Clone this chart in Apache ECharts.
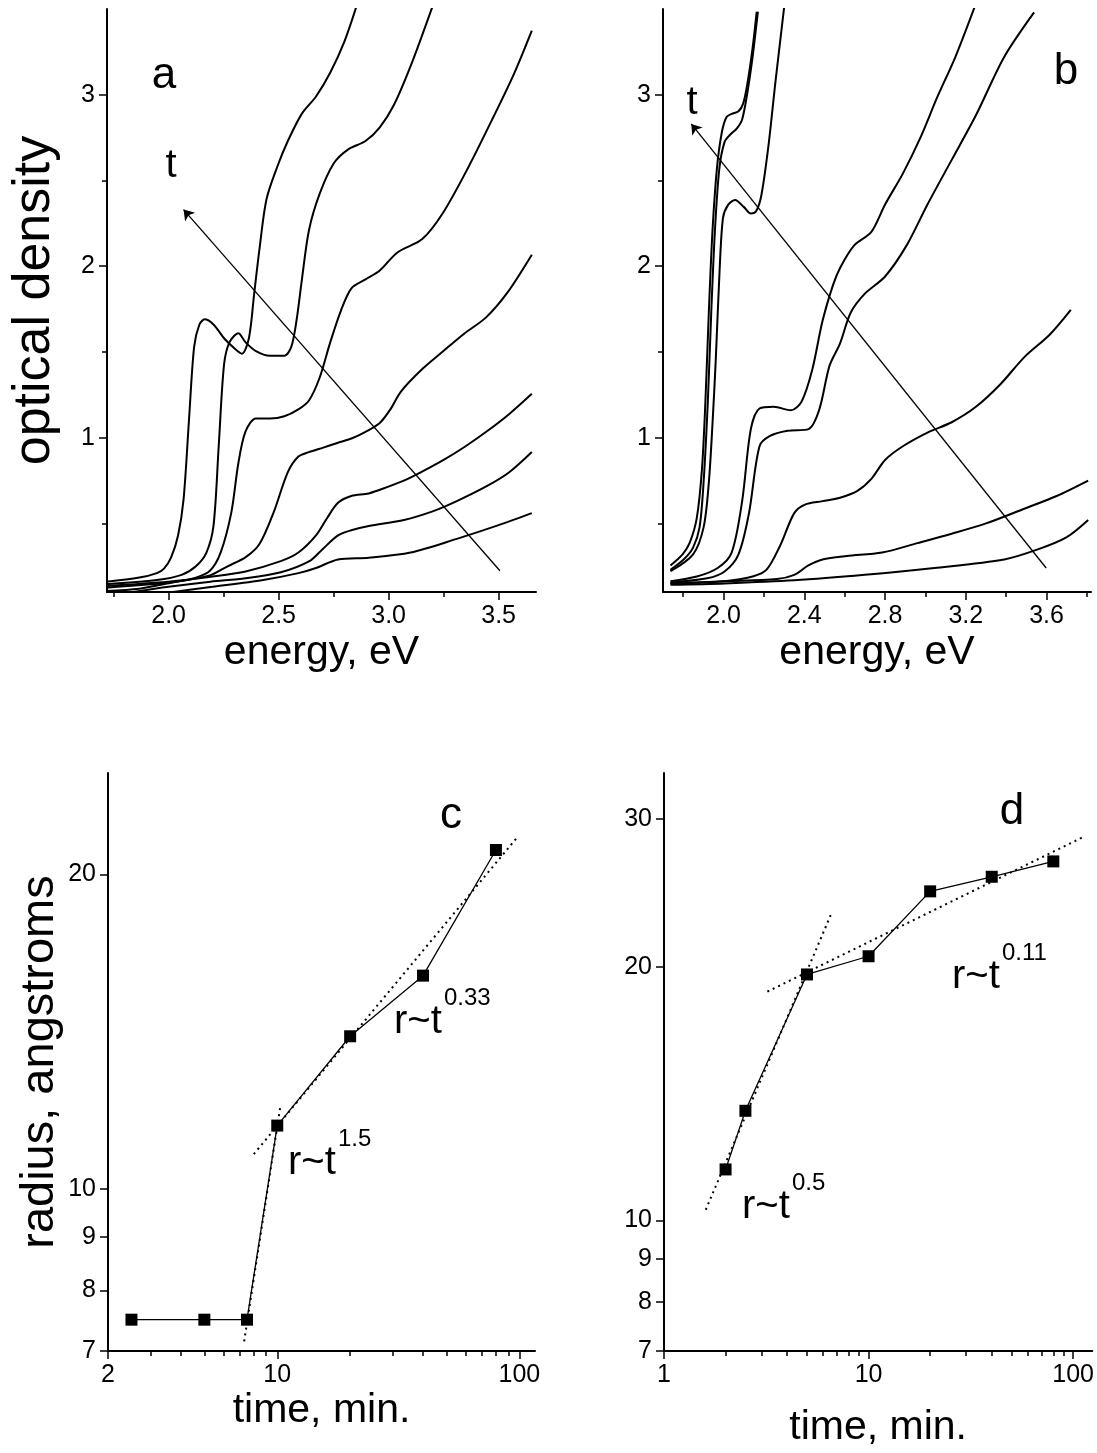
<!DOCTYPE html>
<html><head><meta charset="utf-8">
<script src="https://cdn.jsdelivr.net/npm/echarts@6/dist/echarts.min.js"></script>
<style>html,body{margin:0;padding:0;background:#fff}#c{width:1097px;height:1453px}</style>
</head><body><div id="c"></div>
<script>
// ---------- Panel a: optical density vs energy ----------
const a1 = [[1.706,0.158],[1.867,0.184],[1.947,0.21],[1.979,0.236],[2.011,0.30],[2.043,0.43],[2.068,0.64],[2.092,1.09],[2.116,1.53],[2.14,1.66],[2.164,1.69],[2.204,1.66],[2.252,1.58],[2.30,1.52],[2.333,1.49],[2.365,1.58],[2.389,1.84],[2.413,2.10],[2.445,2.39],[2.494,2.58],[2.542,2.73],[2.606,2.89],[2.670,2.99],[2.735,3.13],[2.799,3.31],[2.855,3.52]];
const a2 = [[1.706,0.145],[1.947,0.17],[2.059,0.20],[2.124,0.25],[2.172,0.33],[2.204,0.485],[2.228,0.956],[2.252,1.426],[2.277,1.557],[2.317,1.609],[2.349,1.557],[2.397,1.505],[2.461,1.478],[2.526,1.478],[2.558,1.531],[2.582,1.688],[2.606,1.923],[2.638,2.21],[2.686,2.42],[2.751,2.60],[2.815,2.68],[2.895,2.73],[2.96,2.81],[3.024,2.94],[3.104,3.18],[3.201,3.52]];
const a3 = [[1.706,0.124],[2.027,0.158],[2.124,0.184],[2.188,0.224],[2.236,0.328],[2.285,0.563],[2.317,0.851],[2.349,1.034],[2.397,1.112],[2.461,1.112],[2.526,1.125],[2.59,1.165],[2.638,1.217],[2.686,1.348],[2.735,1.557],[2.783,1.74],[2.831,1.871],[2.895,1.923],[2.96,1.975],[3.04,2.08],[3.153,2.158],[3.249,2.315],[3.362,2.576],[3.474,2.864],[3.571,3.125],[3.651,3.374]];
const a4 = [[1.706,0.106],[1.867,0.119],[2.027,0.158],[2.188,0.197],[2.268,0.25],[2.349,0.302],[2.413,0.38],[2.477,0.563],[2.542,0.799],[2.59,0.89],[2.638,0.916],[2.703,0.942],[2.767,0.969],[2.831,0.995],[2.895,1.034],[2.96,1.086],[3.008,1.165],[3.056,1.269],[3.153,1.40],[3.249,1.505],[3.346,1.609],[3.442,1.70],[3.539,1.844],[3.651,2.067]];
const a5 = [[1.706,0.135],[2.0,0.16],[2.2,0.19],[2.35,0.22],[2.51,0.28],[2.59,0.33],[2.67,0.43],[2.72,0.53],[2.77,0.62],[2.83,0.66],[2.91,0.675],[2.99,0.71],[3.08,0.755],[3.15,0.80],[3.25,0.87],[3.35,0.95],[3.45,1.04],[3.55,1.14],[3.651,1.256]];
const a6 = [[1.84,0.10],[2.0,0.13],[2.19,0.16],[2.35,0.18],[2.51,0.215],[2.64,0.28],[2.70,0.35],[2.77,0.43],[2.83,0.46],[2.91,0.485],[3.07,0.52],[3.2,0.57],[3.31,0.63],[3.45,0.72],[3.55,0.80],[3.651,0.916]];
const a7 = [[2.02,0.10],[2.2,0.13],[2.43,0.17],[2.59,0.21],[2.67,0.24],[2.77,0.29],[2.91,0.30],[3.1,0.33],[3.31,0.41],[3.5,0.49],[3.651,0.56]];
const arrowA = [[3.506,0.224],[2.068,2.33]];

// ---------- Panel b ----------
const b1 = [[1.737,0.255],[1.797,0.32],[1.832,0.386],[1.867,0.529],[1.893,0.817],[1.91,1.209],[1.927,1.732],[1.945,2.203],[1.967,2.569],[1.991,2.778],[2.014,2.869],[2.04,2.888],[2.074,2.903],[2.097,2.948],[2.118,3.065],[2.144,3.275],[2.164,3.484]];
const b2 = [[1.737,0.229],[1.806,0.294],[1.849,0.359],[1.881,0.477],[1.901,0.739],[1.922,1.209],[1.939,1.732],[1.957,2.203],[1.979,2.569],[2.005,2.725],[2.031,2.765],[2.066,2.804],[2.092,2.856],[2.118,3.013],[2.144,3.222],[2.17,3.484]];
const b3 = [[1.737,0.221],[1.849,0.32],[1.901,0.477],[1.927,0.739],[1.945,1.078],[1.962,1.471],[1.979,1.941],[1.997,2.281],[2.023,2.359],[2.057,2.386],[2.10,2.346],[2.135,2.307],[2.161,2.32],[2.187,2.412],[2.222,2.699],[2.256,3.065],[2.30,3.51]];
const b4 = [[1.737,0.163],[1.867,0.19],[1.971,0.24],[2.04,0.33],[2.092,0.63],[2.135,1.05],[2.178,1.17],[2.248,1.18],[2.334,1.16],[2.386,1.21],[2.438,1.39],[2.49,1.68],[2.542,1.89],[2.577,1.99],[2.646,2.12],[2.732,2.20],[2.80,2.36],[2.888,2.54],[2.975,2.75],[3.06,2.99],[3.148,3.22],[3.243,3.51]];
const b5 = [[1.737,0.156],[1.919,0.18],[2.005,0.22],[2.074,0.32],[2.126,0.56],[2.178,0.95],[2.23,1.01],[2.317,1.04],[2.421,1.05],[2.473,1.16],[2.525,1.42],[2.577,1.55],[2.63,1.73],[2.70,1.84],[2.80,1.94],[2.906,2.12],[3.01,2.36],[3.13,2.62],[3.25,2.88],[3.39,3.22],[3.538,3.48]];
const b6 = [[1.737,0.15],[2.005,0.163],[2.144,0.19],[2.213,0.23],[2.28,0.37],[2.35,0.56],[2.403,0.61],[2.49,0.63],[2.577,0.65],[2.663,0.69],[2.732,0.76],[2.80,0.87],[2.888,0.95],[3.01,1.03],[3.13,1.09],[3.25,1.18],[3.37,1.31],[3.49,1.47],[3.615,1.60],[3.72,1.745]];
const b7 = [[1.737,0.15],[2.005,0.163],[2.265,0.176],[2.35,0.20],[2.42,0.255],[2.49,0.29],[2.61,0.31],[2.785,0.33],[2.96,0.385],[3.13,0.44],[3.30,0.50],[3.477,0.58],[3.65,0.66],[3.806,0.75]];
const b8 = [[1.737,0.142],[2.005,0.15],[2.35,0.168],[2.70,0.20],[3.044,0.24],[3.39,0.29],[3.56,0.35],[3.70,0.42],[3.806,0.52]];
const arrowB = [[3.598,0.24],[1.84,2.83]];

// ---------- Panel c: radius vs time ----------
const tC = [2.5, 5, 7.5, 10, 20, 40, 80];
const rC = [7.5, 7.5, 7.5, 11.5, 14.0, 16.0, 21.1];
const fitC1 = [[7.3, 7.15], [10.3, 12.0]];
const fitC2 = [[8.0, 10.8], [98, 21.7]];

// ---------- Panel d ----------
const tD = [2, 2.5, 5, 10, 20, 40, 80];
const rD = [11.5, 13.5, 19.6, 20.6, 24.6, 25.6, 26.7];
const fitD1 = [[1.6, 10.3], [6.6, 23.2]];
const fitD2 = [[3.2, 18.7], [114, 28.6]];

// ---------- ticks / labels ----------
const aXMajor = [2.0, 2.5, 3.0, 3.5];
const aXMinor = [1.75, 2.25, 2.75, 3.25];
const bXMajor = [2.0, 2.4, 2.8, 3.2, 3.6];
const bXMinor = [1.8, 2.2, 2.6, 3.0, 3.4, 3.8];
const odMajor = [1, 2, 3];
const odMinor = [0.5, 1.5, 2.5];
const cXMajor = [2, 10, 100];
const cXMinor = [3, 4, 5, 6, 7, 8, 9, 20, 30, 40, 50, 60, 70, 80, 90];
const cYTicks = [7, 8, 9, 10, 20];
const dXMajor = [1, 10, 100];
const dXMinor = [2, 3, 4, 5, 6, 7, 8, 9, 20, 30, 40, 50, 60, 70, 80, 90];
const dYTicks = [7, 8, 9, 10, 20, 30];

const FONT = '"Liberation Sans", Arial, sans-serif';
const BLACK = '#000';
const TICKFS = 25;

function zip(a, b) { return a.map((v, i) => [v, b[i]]); }

function mainAxis(o, tickVals, fmt, nameSize) {
  const lab = { color: BLACK, fontSize: TICKFS, fontFamily: FONT, margin: 12, customValues: tickVals };
  if (fmt) lab.formatter = fmt;
  return Object.assign({
    splitLine: { show: false },
    axisLine: { show: true, onZero: false, lineStyle: { color: BLACK, width: 2 } },
    axisTick: { show: true, inside: false, length: 8, customValues: tickVals, lineStyle: { color: BLACK, width: 1.5 } },
    axisLabel: lab,
    nameTextStyle: { color: BLACK, fontSize: nameSize || 41, fontFamily: FONT },
    nameLocation: 'middle'
  }, o);
}
function minorAxis(o, vals) {
  return Object.assign({
    splitLine: { show: false },
    axisLine: { show: false, onZero: false },
    axisTick: { show: true, inside: false, length: 5, customValues: vals, lineStyle: { color: BLACK, width: 1.5 } },
    axisLabel: { show: false }
  }, o);
}

const grids = [
  { left: 107, top: 9, width: 429, height: 583 },
  { left: 663, top: 9, width: 428, height: 583 },
  { left: 108, top: 773, width: 427, height: 578 },
  { left: 664, top: 773, width: 430, height: 578 }
];

const fix1 = v => v.toFixed(1);
const xAxes = [
  mainAxis({ gridIndex: 0, position: 'bottom', type: 'value', min: 1.72, max: 3.67, name: 'energy, eV', nameGap: 40 }, aXMajor, fix1),
  minorAxis({ gridIndex: 0, position: 'bottom', type: 'value', min: 1.72, max: 3.67 }, aXMinor),
  mainAxis({ gridIndex: 1, position: 'bottom', type: 'value', min: 1.70, max: 3.82, name: 'energy, eV', nameGap: 40 }, bXMajor, fix1),
  minorAxis({ gridIndex: 1, position: 'bottom', type: 'value', min: 1.70, max: 3.82 }, bXMinor),
  mainAxis({ gridIndex: 2, position: 'bottom', type: 'log', logBase: 10, min: 2, max: 116, name: 'time, min.', nameGap: 39 }, cXMajor),
  minorAxis({ gridIndex: 2, position: 'bottom', type: 'log', logBase: 10, min: 2, max: 116 }, cXMinor),
  mainAxis({ gridIndex: 3, position: 'bottom', type: 'log', logBase: 10, min: 1, max: 124, name: 'time, min.', nameGap: 56 }, dXMajor),
  minorAxis({ gridIndex: 3, position: 'bottom', type: 'log', logBase: 10, min: 1, max: 124 }, dXMinor)
];

const yAxes = [
  mainAxis({ gridIndex: 0, position: 'left', type: 'value', min: 0.1, max: 3.5, name: 'optical density', nameGap: 46 }, odMajor, null, 52),
  minorAxis({ gridIndex: 0, position: 'left', type: 'value', min: 0.1, max: 3.5 }, odMinor),
  mainAxis({ gridIndex: 1, position: 'left', type: 'value', min: 0.1, max: 3.5 }, odMajor),
  minorAxis({ gridIndex: 1, position: 'left', type: 'value', min: 0.1, max: 3.5 }, odMinor),
  mainAxis({ gridIndex: 2, position: 'left', type: 'log', logBase: 10, min: 7, max: 25, name: 'radius, angstroms', nameGap: 44 }, cYTicks, null, 47),
  mainAxis({ gridIndex: 3, position: 'left', type: 'log', logBase: 10, min: 7, max: 34 }, dYTicks)
];

function spec(data, xi, yi) {
  return { type: 'line', data: data, xAxisIndex: xi, yAxisIndex: yi, showSymbol: false, symbol: 'none',
    smooth: 0.3, lineStyle: { color: BLACK, width: 2 }, silent: true, z: 3 };
}
function arrow(coords, xi, yi) {
  return { type: 'lines', coordinateSystem: 'cartesian2d', xAxisIndex: xi, yAxisIndex: yi,
    symbol: ['none', 'arrow'], symbolSize: 10, silent: true,
    lineStyle: { color: BLACK, width: 1.3, opacity: 1 }, data: [{ coords: coords }], z: 4 };
}
function pts(data, xi, yi) {
  return { type: 'line', data: data, xAxisIndex: xi, yAxisIndex: yi, symbol: 'rect', symbolSize: 12,
    showSymbol: true, itemStyle: { color: BLACK }, lineStyle: { color: BLACK, width: 1.3 }, silent: true, z: 4 };
}
function fit(data, xi, yi) {
  return { type: 'line', data: data, xAxisIndex: xi, yAxisIndex: yi, showSymbol: false, symbol: 'none',
    lineStyle: { color: BLACK, width: 2, type: [2, 4] }, silent: true, z: 3 };
}

const series = [
  ...[a1, a2, a3, a4, a5, a6, a7].map(d => spec(d, 0, 0)),
  arrow(arrowA, 0, 0),
  ...[b1, b2, b3, b4, b5, b6, b7, b8].map(d => spec(d, 2, 2)),
  arrow(arrowB, 2, 2),
  fit(fitC1, 4, 4), fit(fitC2, 4, 4), pts(zip(tC, rC), 4, 4),
  fit(fitD1, 6, 5), fit(fitD2, 6, 5), pts(zip(tD, rD), 6, 5)
];

function txt(text, x, y, size) {
  return { type: 'text', x: x, y: y, silent: true,
    style: { text: text, fill: BLACK, font: size + 'px ' + FONT, align: 'center', verticalAlign: 'middle' } };
}
function power(x, y, sup) {
  return [
    { type: 'text', x: x, y: y, silent: true, style: { text: 'r~t', fill: BLACK, font: '40px ' + FONT, align: 'left', verticalAlign: 'middle' } },
    { type: 'text', x: x + 50, y: y - 24, silent: true, style: { text: sup, fill: BLACK, font: '24px ' + FONT, align: 'left', verticalAlign: 'middle' } }
  ];
}

const graphic = [
  txt('a', 164, 76, 44), txt('b', 1066, 72, 44), txt('c', 451, 816, 44), txt('d', 1012, 812, 44),
  txt('t', 171, 166, 40), txt('t', 692, 103, 40),
  ...power(394, 1022, '0.33'), ...power(288, 1163, '1.5'),
  ...power(952, 977, '0.11'), ...power(742, 1207, '0.5')
];

const chart = echarts.init(document.getElementById('c'), null, { renderer: 'canvas' });
chart.setOption({
  animation: false,
  backgroundColor: '#fff',
  grid: grids,
  xAxis: xAxes,
  yAxis: yAxes,
  series: series,
  graphic: graphic
});
</script>
</body></html>
